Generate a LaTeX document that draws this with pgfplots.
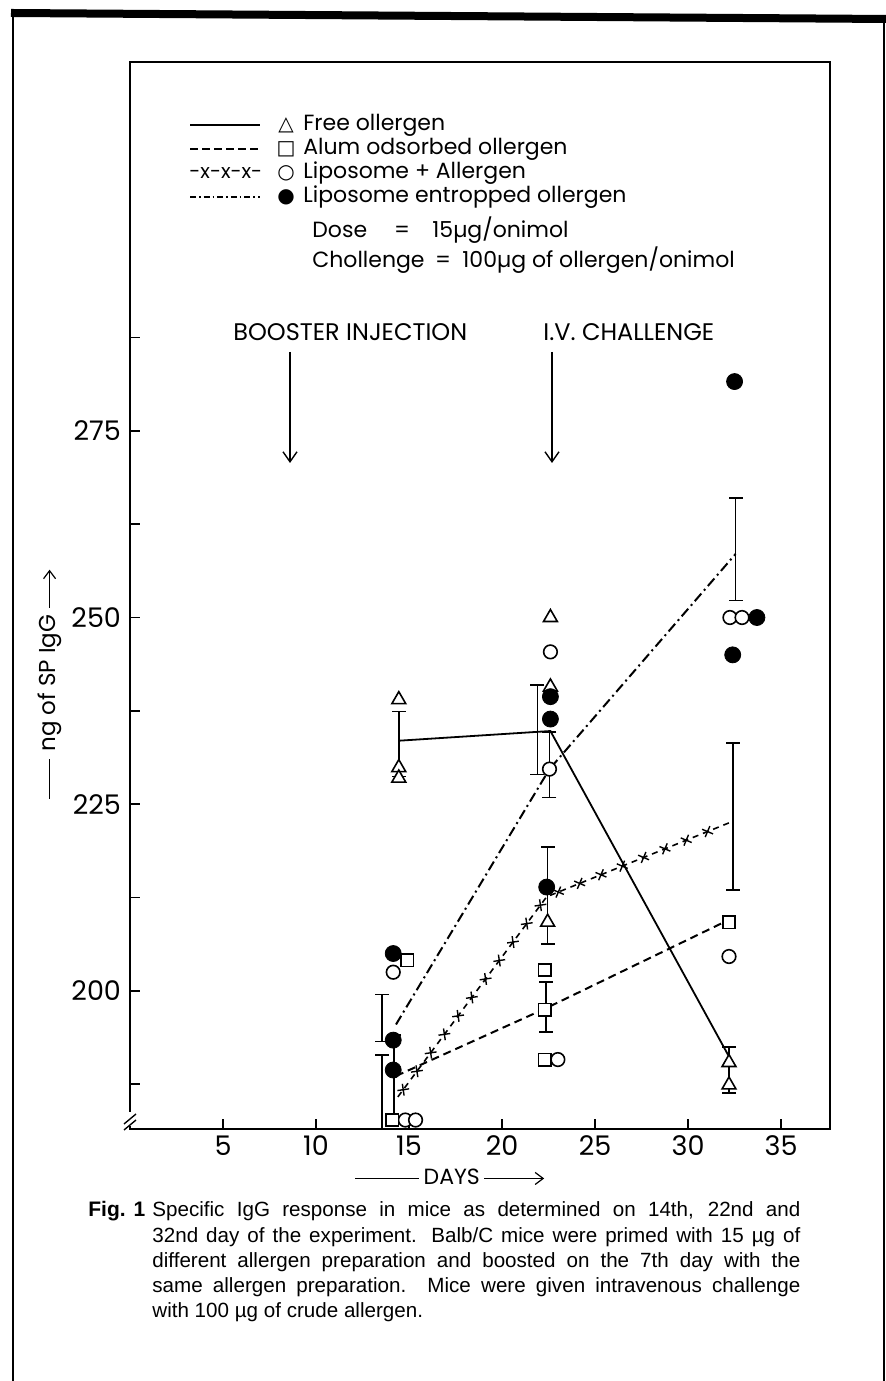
\documentclass[border=0pt]{standalone}
\usepackage{pgfplots}
\pgfplotsset{compat=1.18}
\usepackage{pgfplotstable}
\usepackage{fontspec}
\setmainfont{Liberation Sans}
\newfontfamily\lett{Poppins}
\newfontfamily\sym{DejaVu Sans}
\usetikzlibrary{decorations.markings,arrows.meta}
\tikzset{
  xline/.style={dash pattern=on 3pt off 2.5pt,
    postaction={decorate, decoration={markings,
      mark=between positions 0.02 and 0.99 step 11.5pt with {\draw[solid,line width=0.7pt] (-2.1pt,-2.1pt)--(2.1pt,2.1pt) (-2.1pt,2.1pt)--(2.1pt,-2.1pt);}}}},
  barrow/.style={line width=0.7pt,-{Straight Barb[length=5pt,width=7pt]}}
}
% error bars: lower and upper ends, one bar per pair, separated by nan rows
\pgfplotstableread{
x y
14.45 228.7
14.45 237.4
nan nan
13.55 193.2
13.55 199.5
nan nan
13.55 181.5
13.55 191.4
nan nan
14.2 182.7
14.2 194.1
nan nan
21.9 229
21.9 241
nan nan
22.55 225.9
22.55 234.7
nan nan
22.45 206.3
22.45 219.3
nan nan
22.35 194.5
22.35 201.2
nan nan
32.55 252.3
32.55 266
nan nan
32.4 213.5
32.4 233.2
nan nan
32.2 186.3
32.2 192.5
}\bars
\begin{document}
\begin{tikzpicture}
\path[use as bounding box] (0,0) rectangle (443pt,690.5pt);
\begin{axis}[
  at={(65pt,126pt)}, anchor=south west,
  scale only axis, width=350pt, height=533.5pt,
  xmin=0, xmax=37.63, ymin=181.5, ymax=324.4,
  xtick={5,10,...,35}, ytick={200,225,250,275},
  minor ytick={187.5,212.5,237.5,262.5,287.5},
  tick align=inside, xtick pos=bottom, ytick pos=left,
  major tick length=5pt, minor tick length=5pt,
  tick style={black, line width=0.7pt},
  axis line style={line width=0.8pt},
  /pgf/number format/assume math mode=true,
  tick label style={font=\lett\fontsize{13.5}{15}\selectfont},
  yticklabel style={xshift=-1pt},
  unbounded coords=jump,
  xlabel={\tikz[baseline=-0.5ex]\draw[line width=0.6pt] (0,0)--(32pt,0);\,DAYS\,\tikz[baseline=-0.5ex]\draw[line width=0.6pt,-{Straight Barb[length=4pt,width=6pt]}] (0,0)--(30pt,0);},
  xlabel style={font=\lett\fontsize{11}{12}\selectfont, at={(axis description cs:0.457,-0.045)}, anchor=center},
  ylabel={\tikz[baseline=-0.5ex]\draw[line width=0.6pt] (0,0)--(20pt,0);\;ng of SP IgG\;\tikz[baseline=-0.5ex]\draw[line width=0.6pt,-{Straight Barb[length=4pt,width=6pt]}] (0,0)--(19pt,0);},
  ylabel style={font=\lett\fontsize{11.5}{13}\selectfont, at={(axis description cs:-0.114,0.417)}, anchor=center},
]
% lines
\addplot[line width=0.9pt] coordinates {(14.45,233.5) (22.6,234.8) (32.2,191.2)};
\addplot[line width=1pt, dash pattern=on 4pt off 2.5pt] coordinates {(14.3,188.6) (22.3,197.6) (32.1,209.4)};
\addplot[line width=0.8pt, xline] coordinates {(14.4,185.8) (22.4,212.6) (32.3,222.6)};
\addplot[line width=1pt, dash pattern=on 5pt off 2pt on 1pt off 2pt] coordinates {(14.3,195.5) (22.55,229.7) (32.55,258.5)};
% error bars
\addplot[line width=0.8pt, black, mark=-, mark size=3.5pt, mark options={solid, line width=0.8pt}] table {\bars};
% free allergen (triangles)
\addplot[only marks, mark=triangle*, mark size=4pt, mark options={fill=white, draw=black, line width=0.8pt}]
 coordinates {(14.45,239) (14.45,229.9) (14.45,228.5) (22.6,250) (22.6,240.7) (22.45,209.2) (32.2,190.4) (32.2,187.4)};
% liposome + allergen (open circles)
\addplot[only marks, mark=*, mark size=3.4pt, mark options={fill=white, draw=black, line width=0.8pt}]
 coordinates {(14.15,202.5) (14.8,182.7) (15.35,182.7) (22.6,245.4) (22.55,229.7) (23.0,190.8) (32.25,250) (32.9,250) (32.2,204.6)};
% alum adsorbed (squares)
\addplot[only marks, mark=square*, mark size=3.1pt, mark options={fill=white, draw=black, line width=0.8pt}]
 coordinates {(14.9,204.1) (14.1,182.7) (22.3,202.8) (22.3,197.5) (22.3,190.8) (32.2,209.2)};
% liposome entrapped (filled circles)
\addplot[only marks, mark=*, mark size=4pt, mark options={fill=black, draw=black}]
 coordinates {(14.15,205) (14.15,193.4) (14.15,189.4) (22.6,239.4) (22.6,236.4) (22.4,213.9) (32.5,281.6) (33.7,250) (32.4,245)};
\end{axis}
\begin{scope}[x=0.5pt, y=-0.5pt, shift={(0pt,690.5pt)}]
% outer frame
\draw[line width=4pt] (11,13) -- (886,19);
\draw[line width=1pt] (13,13) -- (13,1381);
\draw[line width=1pt] (884,19) -- (884,1381);
% axis break
\fill[white] (124,1112) rectangle (136,1126);
\draw[line width=0.7pt] (124,1124) -- (136,1114) (124,1130) -- (136,1120);
% legend
\draw[line width=0.9pt] (190,125) -- (260,125);
\draw[line width=0.9pt, dash pattern=on 4pt off 2pt] (190,149) -- (260,149);
\node[anchor=west, inner sep=0, font=\lett\fontsize{10}{11}\selectfont] at (189,173) {-x-x-x-};
\draw[line width=0.9pt, dash pattern=on 3pt off 1.5pt on 0.8pt off 1.5pt] (190,197) -- (260,197);
\foreach \s/\yy in {\char"25B3/125, \char"25A1/149, \char"25CB/173, \char"25CF/197}
  \node[inner sep=0, font=\sym\fontsize{10}{11}\selectfont] at (286,\yy) {\s};
\begin{scope}[every node/.style={anchor=base west, inner sep=0, font=\lett\fontsize{11}{13}\selectfont}]
\node at (303,131) {Free ollergen};
\node at (303,155) {Alum odsorbed ollergen};
\node at (303,179) {Liposome + Allergen};
\node at (303,203) {Liposome entropped ollergen};
\node at (312,238) {Dose};
\node[anchor=base] at (402,238) {=};
\node at (432,238) {15µg/onimol};
\node at (312,268) {Chollenge};
\node[anchor=base] at (443,268) {=};
\node at (462,268) {100µg of ollergen/onimol};
\node[font=\lett\fontsize{12}{13}\selectfont] at (233,341) {BOOSTER INJECTION};
\node[font=\lett\fontsize{12}{13}\selectfont] at (543,341) {I.V. CHALLENGE};
\end{scope}
\draw[barrow] (290,352) -- (290,463);
\draw[barrow] (552,352) -- (552,463);
% caption
\node[anchor=base west, inner sep=0, font=\bfseries\fontsize{10.5}{12.5}\selectfont] at (88,1217) {Fig. 1};
\node[anchor=base west, inner sep=0, font=\fontsize{10.3}{12.5}\selectfont] at (152,1217) {\vtop{\hsize=324pt \baselineskip=12.6pt
\hbox to\hsize{Specific IgG response in mice as determined on 14th, 22nd and}
\hbox to\hsize{32nd day of the experiment. Balb/C mice were primed with 15 µg of}
\hbox to\hsize{different allergen preparation and boosted on the 7th day with the}
\hbox to\hsize{same allergen preparation. Mice were given intravenous challenge}
\hbox{with 100 µg of crude allergen.}}};
\end{scope}
\end{tikzpicture}
\end{document}
